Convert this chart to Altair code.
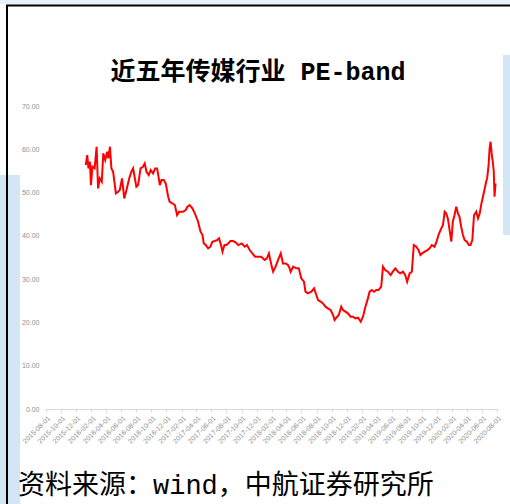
import altair as alt
import pandas as pd

# Media industry PE (TTM), read at turning points
dates = [
    "2016-01-09", "2016-01-15", "2016-01-20", "2016-01-26", "2016-01-30", "2016-02-05",
    "2016-02-14", "2016-02-22", "2016-02-28", "2016-03-06", "2016-03-14", "2016-03-20",
    "2016-03-28", "2016-04-05", "2016-04-10", "2016-04-16", "2016-04-22", "2016-04-29",
    "2016-05-10", "2016-05-19", "2016-05-26", "2016-06-04", "2016-06-13", "2016-06-22",
    "2016-07-03", "2016-07-12", "2016-07-19", "2016-07-26", "2016-08-01", "2016-08-08",
    "2016-08-18", "2016-08-28", "2016-09-04", "2016-09-11", "2016-09-20", "2016-09-28",
    "2016-10-08", "2016-10-16", "2016-10-24", "2016-10-31", "2016-11-04", "2016-11-11",
    "2016-11-20", "2016-11-28", "2016-12-08", "2016-12-14", "2016-12-25", "2017-01-04",
    "2017-01-13", "2017-01-21", "2017-02-06", "2017-02-17", "2017-02-24", "2017-03-05",
    "2017-03-16", "2017-03-26", "2017-04-08", "2017-04-18", "2017-04-26", "2017-05-01",
    "2017-05-09", "2017-05-19", "2017-05-28", "2017-06-05", "2017-06-14", "2017-06-24",
    "2017-07-02", "2017-07-10", "2017-07-16", "2017-07-24", "2017-08-01", "2017-08-09",
    "2017-08-17", "2017-08-28", "2017-09-07", "2017-09-18", "2017-10-02", "2017-10-14",
    "2017-10-23", "2017-11-03", "2017-11-14", "2017-11-25", "2017-12-07", "2017-12-20",
    "2018-01-03", "2018-01-12", "2018-01-20", "2018-01-30", "2018-02-06", "2018-02-16",
    "2018-02-26", "2018-03-09", "2018-03-18", "2018-03-29", "2018-04-07", "2018-04-14",
    "2018-04-18", "2018-04-28", "2018-05-11", "2018-05-21", "2018-05-31", "2018-06-11",
    "2018-06-17", "2018-06-27", "2018-07-11", "2018-07-22", "2018-07-31", "2018-08-07",
    "2018-08-18", "2018-08-27", "2018-09-06", "2018-09-16", "2018-09-27", "2018-10-07",
    "2018-10-13", "2018-10-20", "2018-10-30", "2018-11-09", "2018-11-16", "2018-11-26",
    "2018-12-06", "2018-12-17", "2018-12-27", "2019-01-05", "2019-01-16", "2019-01-27",
    "2019-02-05", "2019-02-15", "2019-02-25", "2019-03-04", "2019-03-13", "2019-03-22",
    "2019-03-31", "2019-04-09", "2019-04-20", "2019-04-27", "2019-05-06", "2019-05-17",
    "2019-05-28", "2019-06-06", "2019-06-16", "2019-06-27", "2019-07-06", "2019-07-17",
    "2019-07-26", "2019-08-03", "2019-08-13", "2019-08-22", "2019-08-30", "2019-09-09",
    "2019-09-18", "2019-09-26", "2019-10-03", "2019-10-13", "2019-10-24", "2019-11-02",
    "2019-11-11", "2019-11-22", "2019-11-30", "2019-12-08", "2019-12-16", "2019-12-26",
    "2020-01-02", "2020-01-08", "2020-01-15", "2020-01-22", "2020-01-29", "2020-02-04",
    "2020-02-11", "2020-02-18", "2020-02-25", "2020-03-02", "2020-03-09", "2020-03-16",
    "2020-03-23", "2020-04-01", "2020-04-09", "2020-04-16", "2020-04-23", "2020-04-30",
    "2020-05-09", "2020-05-16", "2020-05-23", "2020-05-30", "2020-06-05", "2020-06-11",
    "2020-06-18", "2020-06-22", "2020-06-28", "2020-07-02", "2020-07-06", "2020-07-11",
    "2020-07-15", "2020-07-19", "2020-07-22", "2020-07-26",
]
pe = [
    56.35, 58.66, 55.58, 57.12, 51.73, 55.97,
    55.58, 60.59, 50.96, 53.27, 52.50, 59.05,
    57.51, 59.43, 57.89, 60.59, 55.58, 54.81,
    49.81, 50.19, 50.58, 53.27, 48.65, 50.58,
    53.27, 54.81, 55.58, 53.27, 51.35, 51.73,
    55.58, 55.97, 56.74, 54.81, 54.04, 55.20,
    54.43, 55.58, 55.58, 53.27, 51.73, 52.89,
    52.89, 52.12, 49.04, 47.88, 47.50, 47.12,
    44.81, 45.57, 45.57, 45.96, 46.73, 47.12,
    46.35, 45.19, 43.27, 40.96, 40.19, 38.26,
    37.88, 37.11, 37.49, 38.65, 38.80, 39.03,
    39.42, 37.88, 36.34, 37.88, 37.88, 38.26,
    38.80, 38.80, 38.49, 37.88, 38.26, 37.49,
    37.88, 36.72, 35.95, 35.18, 35.18, 35.18,
    34.41, 34.80, 35.95, 33.26, 31.72, 32.87,
    34.41, 35.95, 33.64, 33.64, 33.26, 32.49,
    31.72, 32.87, 32.49, 32.49, 30.18, 29.41,
    27.10, 26.71, 27.10, 27.87, 26.33, 25.17,
    24.79, 24.40, 23.64, 23.25, 22.87, 21.71,
    20.56, 21.09, 21.71, 23.64, 22.87, 22.48,
    22.10, 21.33, 21.33, 20.94, 21.09, 20.17,
    21.33, 23.64, 25.56, 27.10, 27.48, 27.10,
    27.48, 27.48, 28.25, 32.87, 32.10, 31.72,
    30.95, 31.72, 32.49, 31.72, 31.33, 31.72,
    30.95, 29.41, 31.33, 31.72, 37.88, 37.49,
    36.72, 35.57, 35.95, 36.34, 36.72, 37.11,
    37.88, 37.49, 38.65, 40.19, 41.34, 42.50,
    45.57, 45.19, 44.04, 41.34, 38.65, 43.27,
    44.81, 46.73, 45.19, 44.42, 42.11, 40.19,
    39.03, 38.65, 37.88, 37.88, 39.03, 44.81,
    45.57, 44.04, 45.19, 47.50, 49.04, 50.58,
    52.50, 53.27, 56.35, 60.20, 61.74, 58.66,
    57.12, 54.81, 49.04, 52.12,
]

# Category axis labels, every two months
tick_dates = [
    "2015-08-01", "2015-10-01", "2015-12-01", "2016-02-01", "2016-04-01", "2016-06-01",
    "2016-08-01", "2016-10-01", "2016-12-01", "2017-02-01", "2017-04-01", "2017-06-01",
    "2017-08-01", "2017-10-01", "2017-12-01", "2018-02-01", "2018-04-01", "2018-06-01",
    "2018-08-01", "2018-10-01", "2018-12-01", "2019-02-01", "2019-04-01", "2019-06-01",
    "2019-08-01", "2019-10-01", "2019-12-01", "2020-02-01", "2020-04-01", "2020-06-01",
    "2020-08-01",
]
y_ticks = [0, 10, 20, 30, 40, 50, 60, 70]

title_text = "近五年传媒行业 PE-band"
source_text = "资料来源：wind，中航证券研究所"

W, H = 451, 303
PAD_L, PAD_T = 46, 106

df = pd.DataFrame({"date": pd.to_datetime(dates), "pe": pe})
tick_vals = [alt.DateTime(year=int(d[:4]), month=int(d[5:7]), date=int(d[8:10])) for d in tick_dates]

x_enc = alt.X(
    "date:T",
    scale=alt.Scale(domain=[tick_vals[0], tick_vals[-1]], nice=False),
    axis=alt.Axis(
        values=tick_vals, format="%Y-%m-%d", labelAngle=-45, labelFontSize=7,
        labelColor="#8f8f8f", labelFont="Liberation Sans", labelPadding=2,
        tickColor="#d9d9d9", tickSize=3, domainColor="#d9d9d9", grid=False,
        title=None, labelOverlap=False,
    ),
)
y_enc = alt.Y(
    "pe:Q",
    scale=alt.Scale(domain=[0, 70], nice=False),
    axis=alt.Axis(
        values=y_ticks, format=".2f", labelFontSize=7, labelColor="#8f8f8f",
        labelFont="Liberation Sans", domain=False, ticks=False, grid=False,
        labelPadding=7, title=None,
    ),
)

line = alt.Chart(df).mark_line(color="#ff0000", strokeWidth=2).encode(x=x_enc, y=y_enc)

# Light-blue page decoration behind the chart
decor_src = alt.Chart(pd.DataFrame({"k": [0]}))
blue = "#d3e6f5"
decor = [
    decor_src.mark_rect(color=blue).encode(
        x=alt.value(-PAD_L), x2=alt.value(20 - PAD_L),
        y=alt.value(175 - PAD_T), y2=alt.value(504 - PAD_T)),
    decor_src.mark_rect(color=blue).encode(
        x=alt.value(503 - PAD_L), x2=alt.value(510 - PAD_L),
        y=alt.value(55 - PAD_T), y2=alt.value(235 - PAD_T)),
    decor_src.mark_rect(color=blue, opacity=0.6).encode(
        x=alt.value(-PAD_L), x2=alt.value(510 - PAD_L),
        y=alt.value(-PAD_T), y2=alt.value(4 - PAD_T)),
]

# Frame lines
frame_top = decor_src.mark_rule(color="#000000", strokeWidth=2).encode(
    x=alt.value(6 - PAD_L), x2=alt.value(510 - PAD_L), y=alt.value(5.5 - PAD_T))
frame_left = decor_src.mark_rule(color="#000000", strokeWidth=2).encode(
    x=alt.value(7 - PAD_L), y=alt.value(5 - PAD_T), y2=alt.value(504 - PAD_T))

title = decor_src.mark_text(
    text=title_text, font="Liberation Mono, Noto Sans CJK SC", fontSize=25,
    fontWeight="bold", color="#000000", align="center", baseline="middle",
).encode(x=alt.value(258 - PAD_L), y=alt.value(72 - PAD_T))

source = decor_src.mark_text(
    text=source_text, font="Liberation Mono, Noto Sans CJK SC", fontSize=27,
    color="#000000", align="left", baseline="middle",
).encode(x=alt.value(18 - PAD_L), y=alt.value(486 - PAD_T))

chart = alt.layer(*decor, line, frame_top, frame_left, title, source).properties(
    width=W, height=H,
    autosize=alt.AutoSizeParams(type="none"),
    padding={"left": PAD_L, "top": PAD_T, "right": 510 - PAD_L - W, "bottom": 504 - PAD_T - H},
    background="#ffffff",
).configure_view(stroke=None)

chart.save("out.html", embed_options={"renderer": "svg", "actions": False})
